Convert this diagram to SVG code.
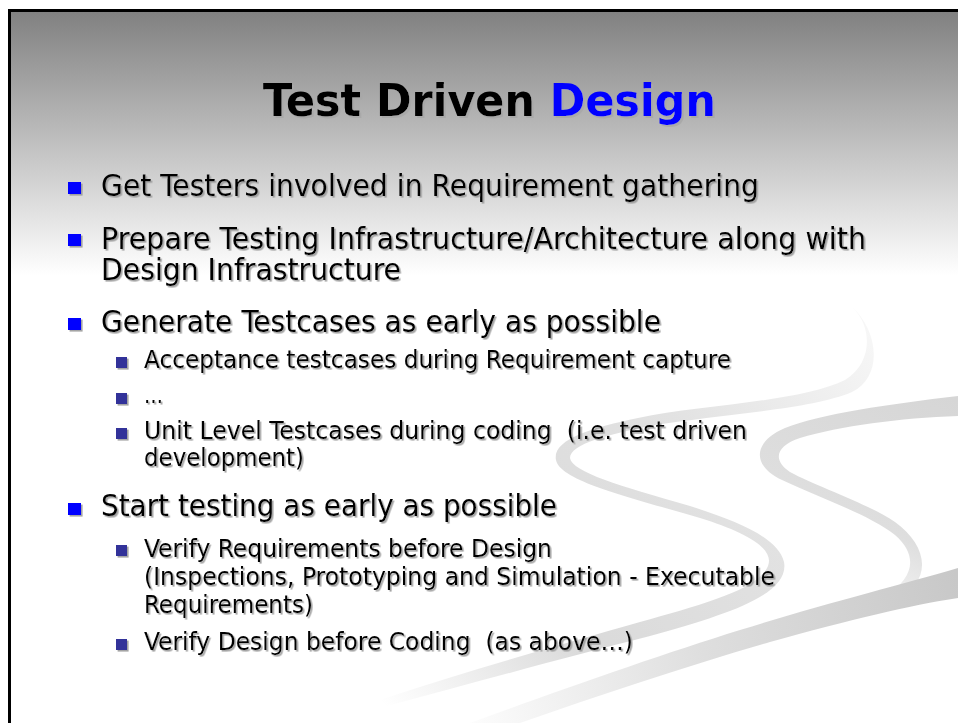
<svg xmlns="http://www.w3.org/2000/svg" width="958" height="723" viewBox="0 0 958 723">
  <defs>
    <linearGradient id="bg" gradientUnits="userSpaceOnUse" x1="0" y1="10" x2="0" y2="275">
      <stop offset="0" stop-color="#808080"/>
      <stop offset="1" stop-color="#ffffff"/>
    </linearGradient>
    <linearGradient id="ribA" gradientUnits="userSpaceOnUse" x1="860" y1="300" x2="380" y2="700">
      <stop offset="0" stop-color="#f8f8f8"/>
      <stop offset="0.35" stop-color="#e2e2e2"/>
      <stop offset="0.7" stop-color="#dadada"/>
      <stop offset="1" stop-color="#ffffff"/>
    </linearGradient>
    <linearGradient id="ribB" gradientUnits="userSpaceOnUse" x1="958" y1="400" x2="850" y2="620">
      <stop offset="0" stop-color="#d6d6d6"/>
      <stop offset="0.6" stop-color="#dedede"/>
      <stop offset="1" stop-color="#ffffff"/>
    </linearGradient>
    <linearGradient id="ribC" gradientUnits="userSpaceOnUse" x1="958" y1="580" x2="450" y2="723">
      <stop offset="0" stop-color="#c8c8c8"/>
      <stop offset="0.5" stop-color="#dedede"/>
      <stop offset="1" stop-color="#ffffff"/>
    </linearGradient>
    <filter id="sh" x="-5%" y="-20%" width="110%" height="150%">
      <feDropShadow dx="1.6" dy="1.6" stdDeviation="0.5" flood-color="#9a9a9a" flood-opacity="0.9"/>
    </filter>
    <filter id="shT" x="-5%" y="-20%" width="110%" height="150%">
      <feDropShadow dx="2" dy="2" stdDeviation="0.6" flood-color="#a8a8a8" flood-opacity="0.9"/>
    </filter>
  </defs>
  <style>
    .t1 { font-family: "DejaVu Sans Condensed", "DejaVu Sans", sans-serif; font-stretch: condensed; font-size: 30px; fill: #000; }
    .t2 { font-family: "DejaVu Sans Condensed", "DejaVu Sans", sans-serif; font-stretch: condensed; font-size: 24px; fill: #000; }
    .ttl { font-family: "DejaVu Sans Condensed", "DejaVu Sans", sans-serif; font-stretch: condensed; font-size: 45px; font-weight: bold; fill: #000; }
    .b1 { fill: #0000ff; }
    .b2 { fill: #333399; }
  </style>

  <rect x="0" y="0" width="958" height="723" fill="#ffffff"/>
  <rect id="slide" x="9.5" y="10.5" width="960" height="725" fill="url(#bg)" stroke="#000" stroke-width="3"/>

  <g id="swooshes">
    <path fill="url(#ribA)" d="M852,307 C872,325 874,362 845,380 C800,402 700,405 638,418 C590,428 552,440 556,460 C560,482 640,500 700,518 C745,532 775,548 768,566 C758,590 700,605 640,622 C560,645 470,670 380,700 L380,708 C470,684 570,656 650,636 C730,614 790,594 784,562 C778,538 740,522 690,506 C620,486 572,472 570,458 C570,444 610,434 650,426 C720,414 810,410 852,392 C884,376 878,330 852,307 Z"/>
    <path fill="url(#ribB)" d="M958,396 C890,404 820,414 785,428 C752,442 752,466 782,480 C820,498 868,514 895,535 C918,555 915,578 885,596 C870,605 855,612 840,620 C870,612 900,600 915,585 C930,565 920,540 895,522 C865,502 815,486 790,472 C772,460 776,446 800,438 C840,426 900,418 958,416 Z"/>
    <path fill="url(#ribC)" d="M958,568 C900,585 820,605 740,630 C660,655 560,690 470,723 L520,723 C600,695 690,665 770,642 C850,620 910,605 958,598 Z"/>
  </g>

  <g id="title" filter="url(#shT)">
    <text class="ttl" x="263" y="116" textLength="453" lengthAdjust="spacingAndGlyphs">Test Driven <tspan fill="#0000ff">Design</tspan></text>
  </g>

  <g id="bullets" filter="url(#sh)">
    <rect class="b1" x="68" y="182" width="13" height="12"/>
    <text class="t1" x="101" y="196" textLength="658" lengthAdjust="spacingAndGlyphs">Get Testers involved in Requirement gathering</text>

    <rect class="b1" x="68" y="234" width="13" height="12"/>
    <text class="t1"><tspan x="101" y="249" textLength="765" lengthAdjust="spacingAndGlyphs">Prepare Testing Infrastructure/Architecture along with</tspan><tspan x="101" y="280" textLength="300" lengthAdjust="spacingAndGlyphs">Design Infrastructure</tspan></text>

    <rect class="b1" x="68" y="318" width="13" height="12"/>
    <text class="t1" x="101" y="332" textLength="560" lengthAdjust="spacingAndGlyphs">Generate Testcases as early as possible</text>

    <rect class="b2" x="116" y="357" width="11" height="11"/>
    <text class="t2" x="144" y="368" textLength="587" lengthAdjust="spacingAndGlyphs">Acceptance testcases during Requirement capture</text>

    <rect class="b2" x="116" y="393" width="11" height="11"/>
    <text class="t2" x="144" y="403" textLength="19" lengthAdjust="spacingAndGlyphs">…</text>

    <rect class="b2" x="116" y="428" width="11" height="11"/>
    <text class="t2" xml:space="preserve"><tspan x="144" y="439" textLength="603" lengthAdjust="spacingAndGlyphs">Unit Level Testcases during coding  (i.e. test driven</tspan><tspan x="144" y="466" textLength="160" lengthAdjust="spacingAndGlyphs">development)</tspan></text>

    <rect class="b1" x="68" y="503" width="13" height="12"/>
    <text class="t1" x="101" y="516" textLength="456" lengthAdjust="spacingAndGlyphs">Start testing as early as possible</text>

    <rect class="b2" x="116" y="545" width="11" height="11"/>
    <text class="t2"><tspan x="144" y="557" textLength="408" lengthAdjust="spacingAndGlyphs">Verify Requirements before Design</tspan><tspan x="144" y="585" textLength="631" lengthAdjust="spacingAndGlyphs">(Inspections, Prototyping and Simulation - Executable</tspan><tspan x="144" y="613" textLength="169" lengthAdjust="spacingAndGlyphs">Requirements)</tspan></text>

    <rect class="b2" x="116" y="639" width="11" height="11"/>
    <text class="t2" x="144" y="650" textLength="489" lengthAdjust="spacingAndGlyphs" xml:space="preserve">Verify Design before Coding  (as above…)</text>
  </g>
</svg>
